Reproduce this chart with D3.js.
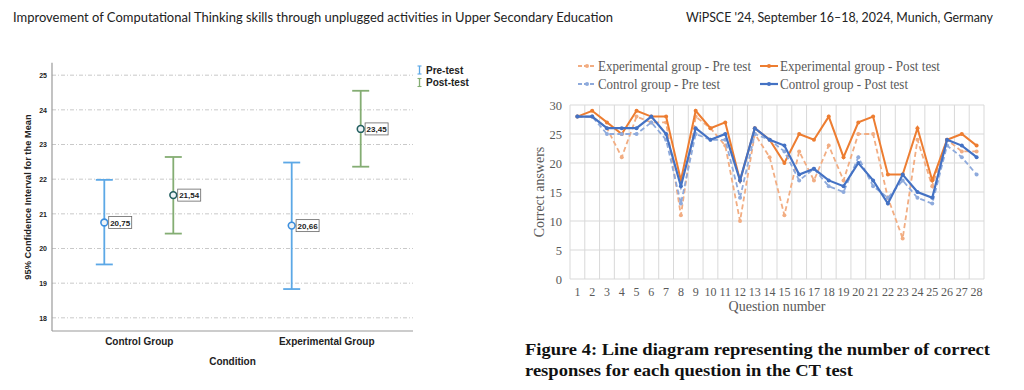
<!DOCTYPE html>
<html>
<head>
<meta charset="utf-8">
<script src="https://cdn.jsdelivr.net/npm/d3@7"></script>
<style>
html,body{margin:0;padding:0;background:#fff;}
svg{display:block;}
</style>
</head>
<body>
<svg id="c" width="1024" height="390"></svg>
<script>
// ---------- Data: error bar chart ----------
const groups = ["Control Group", "Experimental Group"];
const preMean = [20.75, 20.66];
const preLow = [19.54, 18.83];
const preHigh = [21.98, 22.48];
const postMean = [21.54, 23.45];
const postLow = [20.43, 22.36];
const postHigh = [22.64, 24.55];
const ebTicks = [18, 19, 20, 21, 22, 23, 24, 25];
const ebLegend = ["Pre-test", "Post-test"];

// ---------- Data: line chart ----------
const questions = ["1","2","3","4","5","6","7","8","9","10","11","12","13","14","15","16","17","18","19","20","21","22","23","24","25","26","27","28"];
const expPre = [28,28,26,21,28,27,27,11,28,26,23,10,25,21,11,22,17,23,17,25,25,14,7,24,16,24,22,22];
const expPost = [28,29,27,25,29,28,28,17,29,26,27,17,26,24,20,25,24,28,21,27,28,18,18,26,17,24,25,23];
const ctrlPre = [28,28,25,25,25,27,24,13,25,24,24,14,25,24,22,17,19,16,15,21,16,14,17,14,13,23,21,18];
const ctrlPost = [28,28,26,26,26,28,25,16,26,24,25,17,26,24,23,18,19,17,16,20,17,13,18,15,14,24,23,21];
const lineTicks = [0, 5, 10, 15, 20, 25, 30];
const seriesNames = ["Experimental group - Pre test", "Experimental group - Post test", "Control group - Pre test", "Control group - Post test"];

const svg = d3.select("#c");

// ---------- Header ----------
svg.append("text").attr("x", 13).attr("y", 22)
  .attr("font-family", "Lato, 'Open Sans', sans-serif").attr("font-size", 13).attr("fill", "#222")
  .attr("textLength", 600).attr("lengthAdjust", "spacingAndGlyphs")
  .text("Improvement of Computational Thinking skills through unplugged activities in Upper Secondary Education");
svg.append("text").attr("x", 686).attr("y", 22)
  .attr("font-family", "Lato, 'Open Sans', sans-serif").attr("font-size", 13).attr("fill", "#222")
  .attr("textLength", 307).attr("lengthAdjust", "spacingAndGlyphs")
  .text("WiPSCE '24, September 16–18, 2024, Munich, Germany");

// ---------- Error bar chart ----------
const eb = svg.append("g");
const ebY = d3.scaleLinear().domain([17.62, 25.36]).range([331, 62.7]);
const ebX = d3.scalePoint().domain(groups).range([138.8, 326.2]);
const off = 34.5;
const ebLeft = 52, ebRight = 413;
const sans = "'Liberation Sans', Arial, sans-serif";
const preCol = "#5ca8e6", postCol = "#84ad73";
const preDot = "#3d8fde", postDot = "#245f60";
const fmt = d3.formatLocale({decimal: ",", thousands: ".", grouping: [3], currency: ["", ""]}).format(".2f");

// gridlines
eb.selectAll("line.g").data(ebTicks).join("line")
  .attr("x1", ebLeft).attr("x2", ebRight)
  .attr("y1", d => ebY(d)).attr("y2", d => ebY(d))
  .attr("stroke", "#c9c9c9").attr("stroke-width", 1).attr("stroke-dasharray", "4,2,1,2");

// y axis
const yAx = eb.append("g").attr("transform", `translate(${ebLeft},0)`)
  .call(d3.axisLeft(ebY).tickValues(ebTicks).tickSize(0).tickPadding(5).tickFormat(d3.format("d")));
yAx.select(".domain").remove();
yAx.selectAll("text").attr("font-family", sans).attr("font-weight", "bold").attr("font-size", 7).attr("fill", "#222");
eb.append("line").attr("x1", ebLeft).attr("x2", ebLeft).attr("y1", 62.7).attr("y2", 331).attr("stroke", "#9a9a9a").attr("stroke-width", 1.2);
eb.append("line").attr("x1", ebLeft).attr("x2", ebRight).attr("y1", 331).attr("y2", 331).attr("stroke", "#9a9a9a").attr("stroke-width", 1.2);

// x axis labels
const xAx = eb.append("g").attr("transform", "translate(0,331)")
  .call(d3.axisBottom(ebX).tickSize(0).tickPadding(7));
xAx.select(".domain").remove();
xAx.selectAll("text").attr("font-family", sans).attr("font-weight", "bold").attr("font-size", 10).attr("fill", "#222");

eb.append("text").attr("x", 232.5).attr("y", 365).attr("text-anchor", "middle")
  .attr("font-family", sans).attr("font-weight", "bold").attr("font-size", 10).attr("fill", "#222").text("Condition");
eb.append("text").attr("transform", "translate(31,197) rotate(-90)").attr("text-anchor", "middle")
  .attr("font-family", sans).attr("font-weight", "bold").attr("font-size", 9.3).attr("fill", "#222")
  .text("95% Confidence Interval for the Mean");

function drawBars(mean, lo, hi, dx, col, dotCol) {
  groups.forEach((g, i) => {
    const cx = ebX(g) + dx;
    const gg = eb.append("g");
    gg.append("line").attr("x1", cx).attr("x2", cx).attr("y1", ebY(hi[i])).attr("y2", ebY(lo[i]))
      .attr("stroke", col).attr("stroke-width", 1.8);
    [hi[i], lo[i]].forEach(v => gg.append("line").attr("x1", cx - 8.5).attr("x2", cx + 8.5)
      .attr("y1", ebY(v)).attr("y2", ebY(v)).attr("stroke", col).attr("stroke-width", 1.8));
    gg.append("circle").attr("cx", cx).attr("cy", ebY(mean[i])).attr("r", 3.4)
      .attr("fill", "#eef4f8").attr("stroke", dotCol).attr("stroke-width", 1.6);
    gg.append("rect").attr("x", cx + 4.4).attr("y", ebY(mean[i]) - 6).attr("width", 23).attr("height", 12)
      .attr("fill", "#fff").attr("stroke", "#666").attr("stroke-width", 0.8);
    gg.append("text").attr("x", cx + 15.9).attr("y", ebY(mean[i]) + 3).attr("text-anchor", "middle")
      .attr("font-family", sans).attr("font-weight", "bold").attr("font-size", 8).attr("fill", "#222")
      .text(fmt(mean[i]));
  });
}
drawBars(preMean, preLow, preHigh, -off, preCol, preDot);
drawBars(postMean, postLow, postHigh, off, postCol, postDot);

// legend
[preCol, postCol].forEach((c, i) => {
  const ly = 70 + i * 12.5;
  const lg = eb.append("g");
  lg.append("line").attr("x1", 419.5).attr("x2", 419.5).attr("y1", ly - 4).attr("y2", ly + 4).attr("stroke", c).attr("stroke-width", 1.3);
  [ly - 4, ly + 4].forEach(yy => lg.append("line").attr("x1", 417.5).attr("x2", 421.5).attr("y1", yy).attr("y2", yy).attr("stroke", c).attr("stroke-width", 1.1));
  lg.append("text").attr("x", 426).attr("y", ly + 3.5).attr("font-family", sans).attr("font-weight", "bold")
    .attr("font-size", 10).attr("fill", "#222").text(ebLegend[i]);
});

// ---------- Line chart ----------
const lc = svg.append("g");
const serif = "'Liberation Serif', 'DejaVu Serif', serif";
const lx = d3.scaleBand().domain(questions).range([570, 984]);
const ly = d3.scaleLinear().domain([0, 30]).range([279, 105]);
const gridCol = "#d9d9d9";

lc.selectAll("line.h").data(lineTicks).join("line")
  .attr("x1", 570).attr("x2", 984).attr("y1", d => ly(d)).attr("y2", d => ly(d))
  .attr("stroke", gridCol).attr("stroke-width", 1);
lc.selectAll("line.v").data(questions).join("line")
  .attr("x1", d => lx(d)).attr("x2", d => lx(d)).attr("y1", ly(30)).attr("y2", ly(0))
  .attr("stroke", gridCol).attr("stroke-width", 1);
lc.append("line").attr("x1", 984).attr("x2", 984).attr("y1", ly(30)).attr("y2", ly(0))
  .attr("stroke", gridCol).attr("stroke-width", 1);

const lyAx = lc.append("g").attr("transform", "translate(570,0)")
  .call(d3.axisLeft(ly).tickValues(lineTicks).tickSize(0).tickPadding(8));
lyAx.select(".domain").remove();
lyAx.selectAll("text").attr("font-family", serif).attr("font-size", 12.5).attr("fill", "#595959");
const lxAx = lc.append("g").attr("transform", "translate(0,279)")
  .call(d3.axisBottom(lx).tickSize(0).tickPadding(8));
lxAx.select(".domain").remove();
lxAx.selectAll("text").attr("font-family", serif).attr("font-size", 12).attr("fill", "#595959");

lc.append("text").attr("x", 777).attr("y", 311).attr("text-anchor", "middle")
  .attr("font-family", serif).attr("font-size", 14).attr("fill", "#595959").text("Question number");
lc.append("text").attr("transform", "translate(544,192) rotate(-90)").attr("text-anchor", "middle")
  .attr("font-family", serif).attr("font-size", 14).attr("fill", "#595959").text("Correct answers");

const series = [
  {vals: expPre, col: "#f2ad82", dash: "5,3", w: 1.8},
  {vals: expPost, col: "#ed7d31", dash: null, w: 2},
  {vals: ctrlPre, col: "#8eaadc", dash: "5,3", w: 1.8},
  {vals: ctrlPost, col: "#4472c4", dash: null, w: 2.2}
];
const line = d3.line().x((d, i) => lx(questions[i]) + lx.bandwidth() / 2).y(d => ly(d));
series.forEach(s => {
  lc.append("path").datum(s.vals).attr("d", line).attr("fill", "none")
    .attr("stroke", s.col).attr("stroke-width", s.w).attr("stroke-dasharray", s.dash);
  lc.selectAll(null).data(s.vals).join("circle")
    .attr("cx", (d, i) => lx(questions[i]) + lx.bandwidth() / 2).attr("cy", d => ly(d))
    .attr("r", 2).attr("fill", s.col);
});

// legend
const legPos = [[578, 66], [760, 66], [578, 84], [760, 84]];
const legLen = [153, 160, 122, 128];
series.forEach((s, i) => {
  const [x0, y0] = legPos[i];
  lc.append("line").attr("x1", x0).attr("x2", x0 + 18).attr("y1", y0).attr("y2", y0)
    .attr("stroke", s.col).attr("stroke-width", s.w).attr("stroke-dasharray", s.dash ? "4,2" : null);
  lc.append("circle").attr("cx", x0 + 9).attr("cy", y0).attr("r", 2).attr("fill", s.col);
  lc.append("text").attr("x", x0 + 20).attr("y", y0 + 4.5).attr("font-family", serif)
    .attr("font-size", 14).attr("fill", "#595959")
    .attr("textLength", legLen[i]).attr("lengthAdjust", "spacingAndGlyphs").text(seriesNames[i]);
});

// caption
const cap = ["Figure 4: Line diagram representing the number of correct", "responses for each question in the CT test"];
svg.append("text").attr("x", 525).attr("y", 355).attr("font-family", serif).attr("font-weight", "bold")
  .attr("font-size", 17.5).attr("fill", "#111").attr("textLength", 465).attr("lengthAdjust", "spacingAndGlyphs").text(cap[0]);
svg.append("text").attr("x", 525).attr("y", 376).attr("font-family", serif).attr("font-weight", "bold")
  .attr("font-size", 17.5).attr("fill", "#111").attr("textLength", 328).attr("lengthAdjust", "spacingAndGlyphs").text(cap[1]);
</script>
</body>
</html>
